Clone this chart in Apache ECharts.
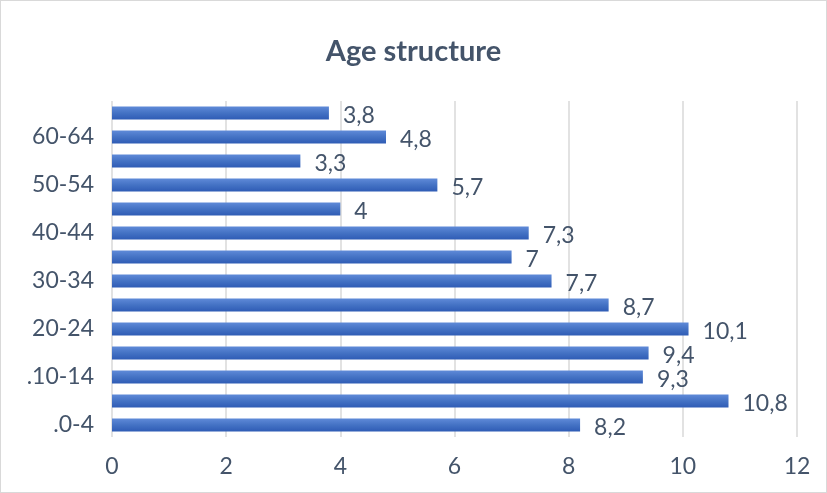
<!DOCTYPE html>
<html><head><meta charset="utf-8">
<script src="https://cdn.jsdelivr.net/npm/echarts@6/dist/echarts.min.js"></script>
<style>html,body{margin:0;padding:0;background:#fff}#c{width:827px;height:493px;box-sizing:border-box;border:1px solid #d9d9d9}</style>
</head><body><div id="c"></div>
<script>
const categories = ['.0-4','.5-9','.10-14','15-19','20-24','25-29','30-34','35-39','40-44','45-49','50-54','55-59','60-64','65+'];
const values = [8.2,10.8,9.3,9.4,10.1,8.7,7.7,7,7.3,4,5.7,3.3,4.8,3.8];
const xTicks = [0,2,4,6,8,10,12];
const chart = echarts.init(document.getElementById('c'));
const font = 'Lato, "Open Sans", sans-serif';
chart.setOption({
  animation:false,
  title:{text:'Age structure',left:'center',top:31,textStyle:{fontFamily:font,fontSize:29,fontWeight:'bold',color:'#44546a'}},
  grid:{left:111,right:29,top:100,bottom:55},
  xAxis:{type:'value',min:xTicks[0],max:xTicks[xTicks.length-1],interval:2,
    axisLine:{show:false},axisTick:{show:false},
    splitLine:{lineStyle:{color:'#d9d9d9',width:1.5}},
    axisLabel:{fontFamily:font,fontSize:23,color:'#44546a',margin:18}},
  yAxis:{type:'category',data:categories,axisLine:{show:false},axisTick:{show:false},
    axisLabel:{interval:1,fontFamily:font,fontSize:23,color:'#44546a',margin:18}},
  series:[{type:'bar',data:values,barWidth:13,
    itemStyle:{color:new echarts.graphic.LinearGradient(0,0,0,1,[{offset:0,color:'#5f8ad8'},{offset:0.5,color:'#4472c4'},{offset:1,color:'#2f5cb5'}])},
    label:{show:true,position:'right',distance:14,offset:[0,3],fontFamily:font,fontSize:23,color:'#44546a',
      formatter:p=>String(p.value).replace('.',',')}}]
});
</script></body></html>
